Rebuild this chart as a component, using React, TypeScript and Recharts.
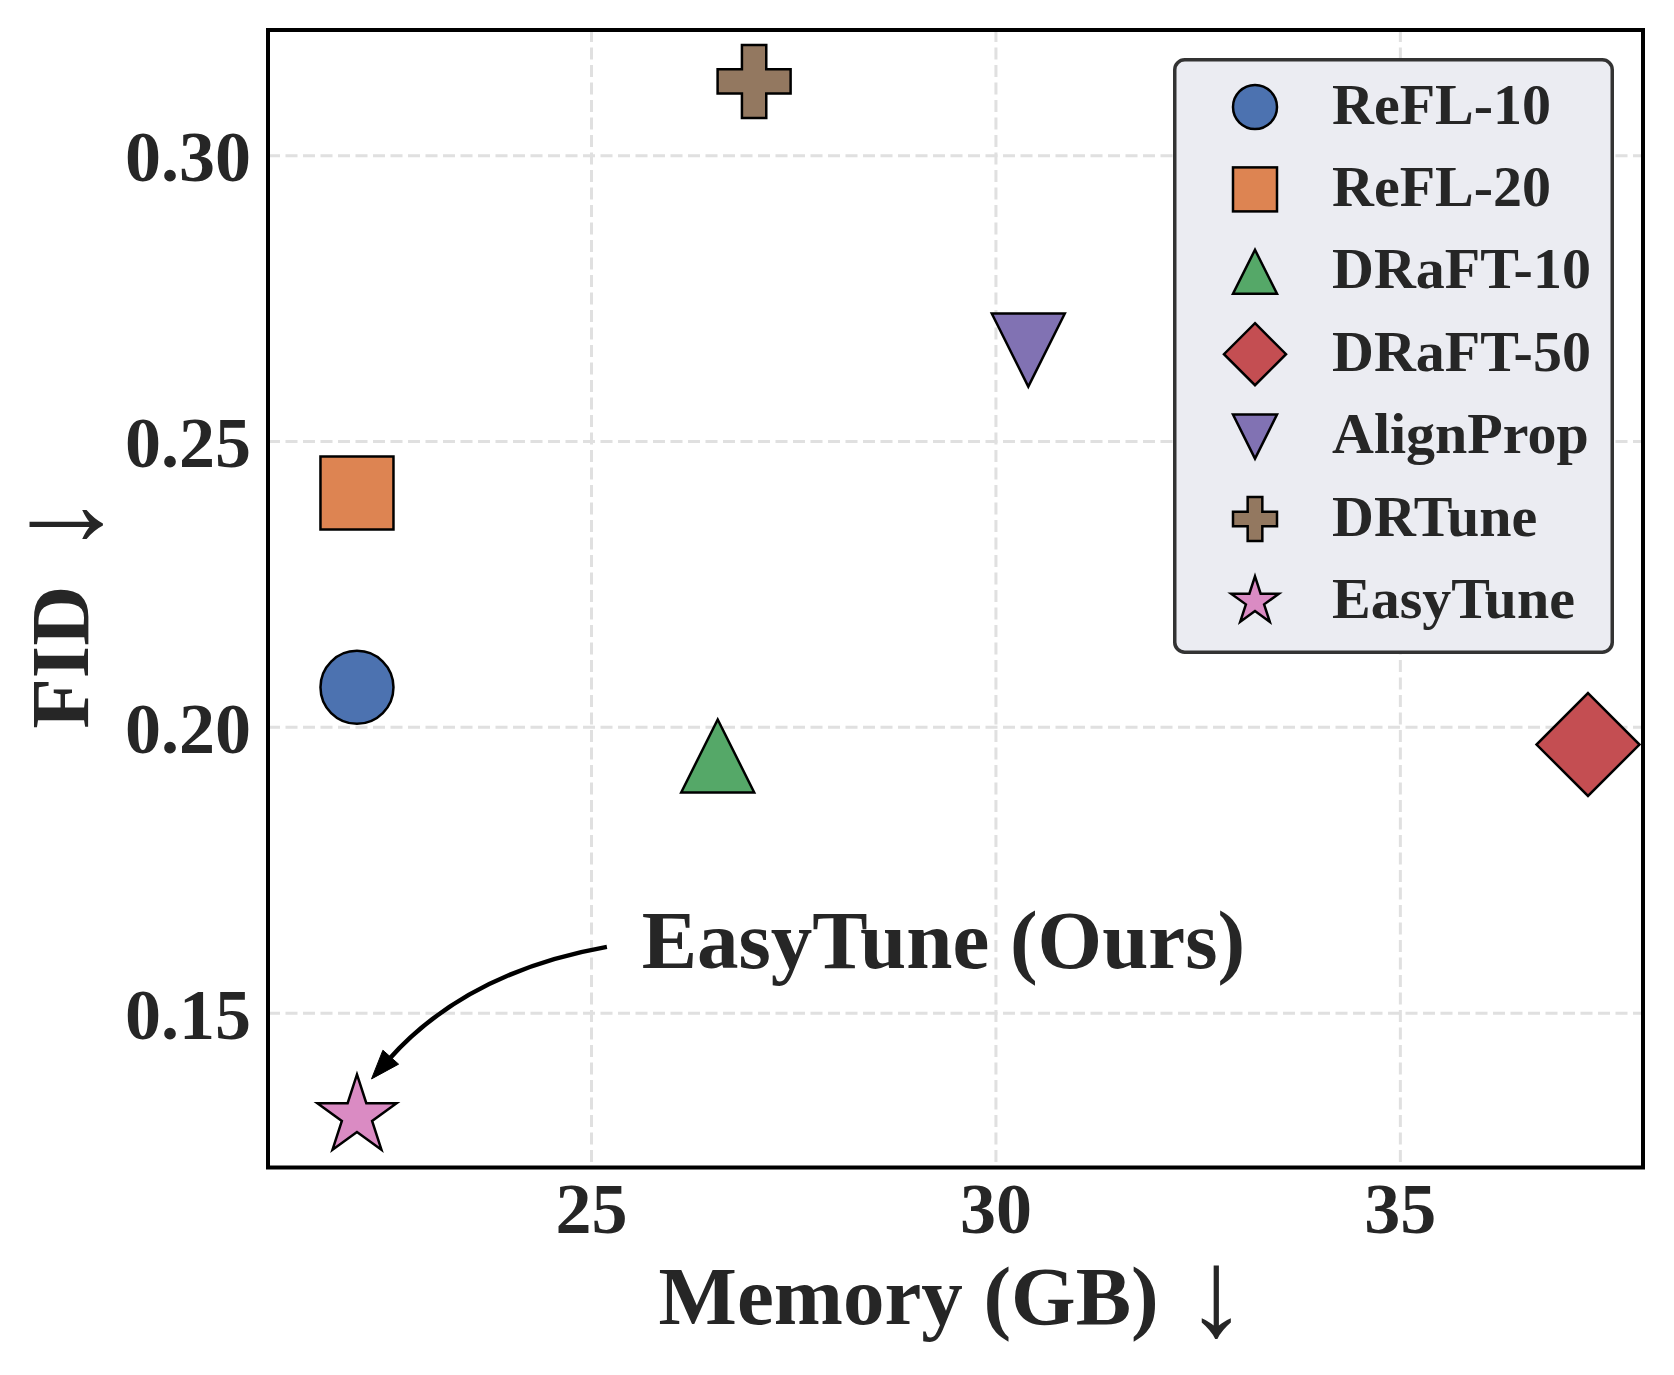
import React from "react";
import {
  ScatterChart,
  Scatter,
  XAxis,
  YAxis,
  CartesianGrid,
  ReferenceArea,
  ReferenceDot,
  ReferenceLine,
  Legend,
  Customized,
} from "recharts";

// ─── Data ──────────────────────────────────────────────────────

const methods = ["ReFL-10", "ReFL-20", "DRaFT-10", "DRaFT-50", "AlignProp", "DRTune", "EasyTune"];
const memoryGB = [22.1, 22.1, 26.56, 37.32, 30.4, 27.01, 22.1];
const fidScores = [0.207, 0.241, 0.195, 0.197, 0.266, 0.313, 0.132];
const colors = ["#4c72b0", "#dd8452", "#55a868", "#c44e52", "#8172b3", "#937860", "#da8bc3"];
const markerKinds = ["circle", "square", "triangle", "diamond", "triangleDown", "plus", "star"];

const xTicks = [25, 30, 35];
const yTicks = [0.15, 0.2, 0.25, 0.3];
const xDomain = [21, 38];
const yDomain = [0.123, 0.322];

const annotationText = "EasyTune (Ours)";
const annotationAt = { x: 25.62, y: 0.1628 };
const arrowFrom = { x: 25.19, y: 0.1616 };
const arrowTo = { x: 22.28, y: 0.1385 };

// ─── Style ─────────────────────────────────────────────────────

const FONT = "'Liberation Serif', 'Times New Roman', serif";
const TEXT = "#262626";
const W = 1674;
const H = 1375;

// ─── Markers ───────────────────────────────────────────────────

interface MarkerProps {
  kind: string;
  cx: number;
  cy: number;
  size: number;
  fill: string;
}

function Marker({ kind, cx, cy, size, fill }: MarkerProps) {
  const h = size / 2;
  const common = { fill, stroke: "#000", strokeWidth: 2.5, strokeLinejoin: "miter" as const };
  if (kind === "circle") return <circle cx={cx} cy={cy} r={h} {...common} />;
  if (kind === "square") return <rect x={cx - h} y={cy - h} width={size} height={size} {...common} />;
  if (kind === "triangle")
    return <polygon points={`${cx},${cy - h} ${cx - h},${cy + h} ${cx + h},${cy + h}`} {...common} />;
  if (kind === "triangleDown")
    return <polygon points={`${cx},${cy + h} ${cx - h},${cy - h} ${cx + h},${cy - h}`} {...common} />;
  if (kind === "diamond") {
    const d = size * 0.705;
    return <polygon points={`${cx},${cy - d} ${cx + d},${cy} ${cx},${cy + d} ${cx - d},${cy}`} {...common} />;
  }
  if (kind === "plus") {
    const a = size / 6;
    const pts = [
      [-a, -h], [a, -h], [a, -a], [h, -a], [h, a], [a, a],
      [a, h], [-a, h], [-a, a], [-h, a], [-h, -a], [-a, -a],
    ]
      .map(([x, y]) => `${cx + x},${cy + y}`)
      .join(" ");
    return <polygon points={pts} {...common} />;
  }
  // star
  const ro = size * 0.57;
  const ri = ro * 0.381966;
  const pts: string[] = [];
  for (let k = 0; k < 10; k++) {
    const r = k % 2 === 0 ? ro : ri;
    const ang = (-90 + k * 36) * (Math.PI / 180);
    pts.push(`${cx + r * Math.cos(ang)},${cy + r * Math.sin(ang)}`);
  }
  return <polygon points={pts.join(" ")} {...common} />;
}

// ─── Legend ────────────────────────────────────────────────────

function LegendBox() {
  return (
    <svg width={441} height={596} style={{ display: "block" }}>
      <rect x={1.75} y={1.75} width={437.5} height={592.5} rx={10} fill="#ebecf2" stroke="#333" strokeWidth={3.5} />
      {methods.map((m, i) => {
        const cy = 49 + i * 82.4;
        return (
          <g key={m}>
            <Marker kind={markerKinds[i]} cx={82} cy={cy} size={44} fill={colors[i]} />
            <text x={159} y={cy + 16.5} fontSize={58} fontWeight={700} fill={TEXT} fontFamily={FONT}>
              {m}
            </text>
          </g>
        );
      })}
    </svg>
  );
}

// ─── Annotation pieces ─────────────────────────────────────────

function CurvedArrow(props: any) {
  const { x1, y1, x2, y2 } = props;
  const dx = x2 - x1;
  const dy = y2 - y1;
  const bend = 0.174;
  const qx = (x1 + x2) / 2 - bend * dy;
  const qy = (y1 + y2) / 2 + bend * dx;
  const ux0 = x2 - qx;
  const uy0 = y2 - qy;
  const len = Math.hypot(ux0, uy0);
  const ux = ux0 / len;
  const uy = uy0 / len;
  const headLen = 29;
  const headHalf = 10.5;
  const bx = x2 - ux * headLen;
  const by = y2 - uy * headLen;
  return (
    <g>
      <path d={`M${x1},${y1} Q${qx},${qy} ${bx + ux * 4},${by + uy * 4}`} fill="none" stroke="#000" strokeWidth={4.5} />
      <polygon
        points={`${x2},${y2} ${bx - uy * headHalf},${by + ux * headHalf} ${bx + uy * headHalf},${by - ux * headHalf}`}
        fill="#000"
        stroke="#000"
        strokeWidth={1}
      />
    </g>
  );
}

function AnnotationLabel(props: any) {
  const { cx, cy } = props;
  return (
    <text x={cx} y={cy} dy={28} fontSize={83} fontWeight={700} fill={TEXT} fontFamily={FONT}>
      {annotationText}
    </text>
  );
}

function AxisTitles() {
  return (
    <g fontFamily={FONT} fill={TEXT} fontWeight={700} fontSize={83}>
      <text x={953} y={1324} textAnchor="middle">
        {"Memory (GB) "}
        <tspan fontWeight={400} fontSize={124} dx={6} dy={11}>
          ↓
        </tspan>
      </text>
      <text transform="translate(88, 611) rotate(-90)" textAnchor="middle">
        {"FID "}
        <tspan fontWeight={400} fontSize={124} dx={10} dy={11}>
          ↓
        </tspan>
      </text>
    </g>
  );
}

// ─── Chart ─────────────────────────────────────────────────────

export default function App() {
  const series = methods.map((name, i) => ({
    name,
    kind: markerKinds[i],
    color: colors[i],
    data: [{ x: memoryGB[i], y: fidScores[i] }],
  }));

  const tickStyle = { fontSize: 72, fontWeight: 700, fill: TEXT, fontFamily: FONT };

  return (
    <div style={{ position: "absolute", left: 0, top: 0, width: W, height: H, background: "#fff" }}>
      <ScatterChart width={W} height={H} margin={{ top: 30, right: 31, bottom: 0, left: 0 }}>
        <CartesianGrid stroke="#e0e0e0" strokeWidth={3} strokeDasharray="12 5.5" />
        <XAxis
          type="number"
          dataKey="x"
          domain={xDomain}
          ticks={xTicks}
          allowDataOverflow
          height={207.5}
          axisLine={false}
          tickLine={false}
          tickSize={0}
          tickMargin={14}
          tick={tickStyle}
        />
        <YAxis
          type="number"
          dataKey="y"
          domain={yDomain}
          ticks={yTicks}
          allowDataOverflow
          width={268}
          axisLine={false}
          tickLine={false}
          tickSize={0}
          tickMargin={17}
          tick={tickStyle}
          tickFormatter={(v: number) => v.toFixed(2)}
        />
        <ReferenceArea
          x1={xDomain[0]}
          x2={xDomain[1]}
          y1={yDomain[0]}
          y2={yDomain[1]}
          fill="none"
          stroke="#000"
          strokeWidth={4}
          ifOverflow="visible"
        />
        {series.map((s) => (
          <Scatter
            key={s.name}
            name={s.name}
            data={s.data}
            fill={s.color}
            isAnimationActive={false}
            shape={(p: any) => <Marker kind={s.kind} cx={p.cx} cy={p.cy} size={73} fill={s.color} />}
          />
        ))}
        <ReferenceLine
          segment={[arrowFrom, arrowTo]}
          ifOverflow="visible"
          shape={(p: any) => <CurvedArrow {...p} />}
        />
        <ReferenceDot
          x={annotationAt.x}
          y={annotationAt.y}
          ifOverflow="visible"
          shape={(p: any) => <AnnotationLabel {...p} />}
        />
        <Legend
          layout="vertical"
          align="center"
          verticalAlign="middle"
          wrapperStyle={{ left: 1173, top: 58, width: 441, height: 596 }}
          content={() => <LegendBox />}
        />
        <Customized component={AxisTitles} />
      </ScatterChart>
    </div>
  );
}
